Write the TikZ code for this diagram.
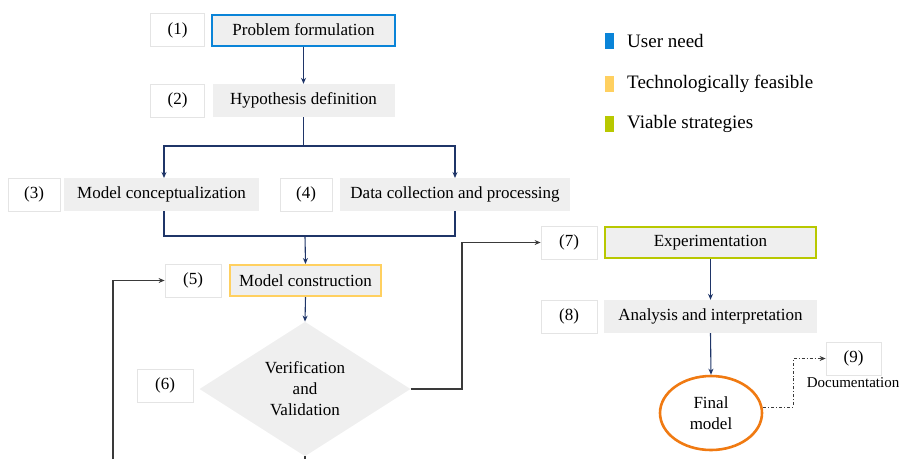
\documentclass[tikz,border=0pt]{standalone}
\usepackage{fontspec}
\setmainfont{Liberation Serif}
\usetikzlibrary{arrows.meta,shapes.geometric}
\definecolor{boxgray}{HTML}{EFEFEF}
\definecolor{numedge}{HTML}{E4E4E4}
\definecolor{userblue}{HTML}{0A84D8}
\definecolor{techyellow}{HTML}{FFD060}
\definecolor{viagreen}{HTML}{B8C800}
\definecolor{navy}{HTML}{1F3568}
\definecolor{darkline}{HTML}{3A3A3A}
\definecolor{orangeedge}{HTML}{F07A12}
\tikzset{
  x=1pt, y=-1pt,
  numbox/.style={draw=numedge, fill=white, line width=0.8pt, minimum width=54pt, minimum height=33pt, inner sep=0pt, font=\fontsize{17}{20}\selectfont},
  stepbox/.style={fill=boxgray, minimum height=33pt, inner sep=0pt, font=\fontsize{17}{20}\selectfont},
  navyarrow/.style={draw=navy, line width=1.1pt, -{Stealth[length=6pt,width=5pt]}},
  navyline/.style={draw=navy, line width=1.1pt},
  darkarrow/.style={draw=darkline, line width=1.1pt, -{Stealth[length=6pt,width=5pt]}},
  darkline/.style={draw=darkline, line width=1.1pt},
  legsq/.style={minimum width=9pt, minimum height=16pt, inner sep=0pt},
  legtext/.style={anchor=west, inner sep=0pt, font=\fontsize{19}{22}\selectfont},
}
\begin{document}
\begin{tikzpicture}
\useasboundingbox (0,0) rectangle (901,459);
% row 1
\node[numbox] (n1) at (177.5,30) {(1)};
\node[stepbox, draw=userblue, line width=2pt, minimum width=183pt, minimum height=31pt] (s1) at (303.5,30) {Problem formulation};
% row 2
\node[numbox] (n2) at (177.5,100.5) {(2)};
\node[stepbox, minimum width=182pt] (s2) at (303.5,100.5) {Hypothesis definition};
% row 3
\node[numbox, minimum width=52pt] (n3) at (34,194.5) {(3)};
\node[stepbox, minimum width=195pt] (s3) at (161.5,194.5) {Model conceptualization};
\node[numbox, minimum width=52pt] (n4) at (306,194.5) {(4)};
\node[stepbox, minimum width=230pt] (s4) at (455,194.5) {Data collection and processing};
% row 5
\node[numbox, minimum width=56pt] (n5) at (193,280.5) {(5)};
\node[stepbox, draw=techyellow, line width=2pt, minimum width=151pt, minimum height=31pt] (s5) at (305.5,280.5) {Model construction};
% diamond
\node[diamond, fill=boxgray, minimum width=211pt, minimum height=106pt, inner sep=0pt, align=center, font=\fontsize{17}{21}\selectfont] (s6) at (305,389) {Verification\\and\\Validation};
\node[numbox, minimum width=56pt] (n6) at (165,385.5) {(6)};
% right column
\node[numbox, minimum width=56pt] (n7) at (569,242.5) {(7)};
\node[stepbox, draw=viagreen, line width=2pt, minimum width=211pt, minimum height=31pt] (s7) at (710.5,242.5) {Experimentation};
\node[numbox, minimum width=56pt] (n8) at (569,316.5) {(8)};
\node[stepbox, minimum width=213pt] (s8) at (710.5,316.5) {Analysis and interpretation};
\node[ellipse, draw=orangeedge, line width=2.6pt, fill=white, minimum width=102pt, minimum height=74pt, inner sep=0pt, align=center, font=\fontsize{17}{21}\selectfont] (s9) at (711,413) {Final\\model};
\node[numbox, minimum width=55pt] (n9) at (853.5,358.5) {(9)};
\node[anchor=north, inner sep=0pt, font=\fontsize{15}{18}\selectfont] (doc) at (853,377) {Documentation};
% legend
\node[legsq, fill=userblue] (l1) at (609.5,40.5) {};
\node[legtext] (t1) at (627,40.5) {User need};
\node[legsq, fill=techyellow] (l2) at (609.5,84) {};
\node[legtext] (t2) at (627,84) {Technologically feasible};
\node[legsq, fill=viagreen] (l3) at (609.5,124) {};
\node[legtext] (t3) at (627,124) {Viable strategies};
% connectors
\coordinate (split) at (303.5,146);
\coordinate (merge) at (305,236);
\draw[navyarrow] (s1.south) -- (s2.north);
\draw[navyline] (s2.south) -- (split);
\draw[navyarrow] (split) -| (164,178);
\draw[navyarrow] (split) -| (455,178);
\draw[navyline] (164,211) |- (merge);
\draw[navyline] (455,211) |- (merge);
\draw[navyarrow] (merge) -- (s5.north);
\draw[navyarrow] (s5.south) -- (s6.north);
\draw[darkarrow] (s6.east) -| (462,242.5) -- (n7.west);
\coordinate (bot6) at (305,459);
\draw[darkline] (s6.south) -- (bot6);
\coordinate (botleft) at (113,459);
\draw[darkarrow] (botleft) |- (n5.west);
\draw[navyarrow] (s7.south) -- (s8.north);
\draw[navyarrow] (s8.south) -- (s9.north);
\draw[draw=darkline, line width=0.9pt, dash dot, -{Stealth[length=6pt,width=5pt]}] (s9.east) ++(0,-6) -| (793,358.5) -- (n9.west);
\end{tikzpicture}
\end{document}
